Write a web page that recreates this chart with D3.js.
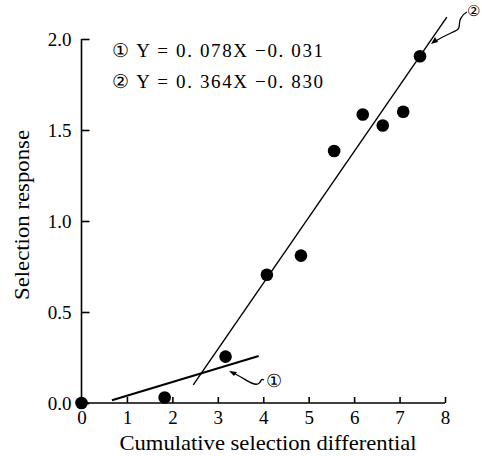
<!doctype html>
<html>
<head>
<meta charset="utf-8">
<style>
    body { margin: 0; background: white; }
    text { font-family: "Liberation Serif", "DejaVu Serif", serif; fill: black; }
    .axis path, .axis line { stroke: black; stroke-width: 1.6px; }
    .fit { fill: none; stroke: black; }
    .note { fill: none; stroke: black; stroke-width: 1.3px; }
</style>
</head>
<body>
<script src="https://cdn.jsdelivr.net/npm/d3@7"></script>
<script>
    const xs = [0, 1.83, 3.17, 4.08, 4.83, 5.56, 6.19, 6.63, 7.08, 7.45];
    const ys = [0, 0.03, 0.255, 0.705, 0.81, 1.385, 1.585, 1.525, 1.6, 1.905];

    // fitted lines, drawn between these end points
    const line1 = [[0.67, 0.015], [3.9, 0.258]];
    const line2 = [[2.46, 0.1], [8.04, 2.12]];

    const xTicks = [0, 1, 2, 3, 4, 5, 6, 7, 8];
    const yTicks = [0, 0.5, 1.0, 1.5, 2.0];
    const equations = ["\u2460 Y = 0. 078X \u22120. 031", "\u2461 Y = 0. 364X \u22120. 830"];

    const width = 482, height = 456;
    const svg = d3.select("body").append("svg")
        .attr("width", width)
        .attr("height", height);

    const x = d3.scaleLinear().domain([0, 8]).range([81.5, 445]);
    const y = d3.scaleLinear().domain([0, 2]).range([403, 39]);

    svg.append("g")
        .attr("class", "axis")
        .attr("transform", `translate(0, ${y(0)})`)
        .call(d3.axisBottom(x).tickValues(xTicks).tickFormat(d3.format("d"))
            .tickSizeInner(-6).tickSizeOuter(0).tickPadding(8))
        .call(g => g.select(".domain").attr("d", `M${x(0)},0H${x(8)}`));

    svg.append("g")
        .attr("class", "axis")
        .attr("transform", `translate(${x(0)}, 0)`)
        .call(d3.axisLeft(y).tickValues(yTicks).tickFormat(d3.format(".1f"))
            .tickSizeInner(-8).tickSizeOuter(0).tickPadding(10))
        .call(g => g.select(".domain").attr("d", `M0,${y(0)}V${y(2)}`));

    svg.selectAll(".axis text").attr("font-family", "Liberation Serif").attr("font-size", 19);

    const ln = d3.line().x(d => x(d[0])).y(d => y(d[1]));
    svg.append("path").attr("class", "fit").attr("stroke-width", 2).attr("d", ln(line1));
    svg.append("path").attr("class", "fit").attr("stroke-width", 1.4).attr("d", ln(line2));

    svg.selectAll("circle.obs")
        .data(d3.range(xs.length))
        .join("circle")
        .attr("class", "obs")
        .attr("cx", i => x(xs[i]))
        .attr("cy", i => y(ys[i]))
        .attr("r", 6.3)
        .attr("fill", "black");

    // equations
    svg.selectAll("text.eq")
        .data(equations)
        .join("text")
        .attr("class", "eq")
        .attr("x", 112)
        .attr("y", (d, i) => 57 + i * 31)
        .attr("font-size", 19)
        .attr("textLength", 211)
        .attr("lengthAdjust", "spacing")
        .text(d => d);

    // labels pointing at the lines
    svg.append("path").attr("class", "note")
        .attr("d", "M231,372 C245,378 252,386 258,384 C262,382 260,378 264,380");
    svg.append("path").attr("fill", "black").attr("d", "M229,371 l8,1 l-3,4 Z");
    svg.append("text").attr("x", 266).attr("y", 387).attr("font-size", 18).text("\u2460");

    svg.append("path").attr("class", "note")
        .attr("d", "M434,42 C445,35 452,33 457,30 C461,28 458,22 461,18 C463,14 465,13 467,12");
    svg.append("path").attr("fill", "black").attr("d", "M431,44 l4,-7 l3,5 Z");
    svg.append("text").attr("x", 467).attr("y", 16).attr("font-size", 15).text("\u2461");

    svg.append("text")
        .attr("x", 268)
        .attr("y", 450)
        .attr("text-anchor", "middle")
        .attr("font-size", 21)
        .attr("textLength", 297)
        .attr("lengthAdjust", "spacingAndGlyphs")
        .text("Cumulative selection differential");

    svg.append("text")
        .attr("transform", `translate(29, 215) rotate(-90)`)
        .attr("text-anchor", "middle")
        .attr("font-size", 22)
        .attr("textLength", 170)
        .attr("lengthAdjust", "spacingAndGlyphs")
        .text("Selection response");
</script>
</body>
</html>
